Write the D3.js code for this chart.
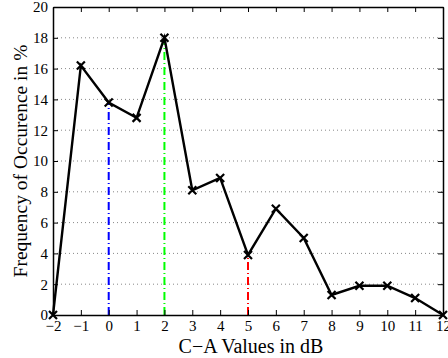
<!DOCTYPE html>
<meta charset="utf-8">
<style>body{margin:0;background:#fff}</style>
<svg width="448" height="358"></svg>
<script src="https://cdn.jsdelivr.net/npm/d3@7"></script>
<script>
// C-A values (dB) and frequency of occurrence (%)
var xVals = [-2, -1, 0, 1, 2, 3, 4, 5, 6, 7, 8, 9, 10, 11, 12];
var freq = [0, 16.2, 13.8, 12.8, 18, 8.1, 8.9, 3.9, 6.9, 5.0, 1.3, 1.9, 1.9, 1.1, 0];
var xTicks = d3.range(-2, 13);
var yTicks = d3.range(0, 21, 2);
var markerX = [0, 2, 5];
var markerY = [13.8, 18, 3.9];
var markerColor = ["#0000ff", "#00ff00", "#ff0000"];

var serif = "Liberation Serif";

var svg = d3.select("svg"),
    margin = {top: 7, right: 5, bottom: 43, left: 53},
    width = 443 - margin.left,
    height = 315 - margin.top,
    g = svg.append("g").attr("transform", "translate(" + margin.left + "," + margin.top + ")");

var x = d3.scaleLinear().domain([-2, 12]).range([0, width]);
var y = d3.scaleLinear().domain([0, 20]).range([height, 0]);

// horizontal dotted grid
g.selectAll(".grid").data(yTicks.slice(1, -1)).enter().append("line")
    .attr("x1", 0).attr("x2", width)
    .attr("y1", d => y(d)).attr("y2", d => y(d))
    .attr("stroke", "#888").attr("stroke-width", 1)
    .attr("stroke-dasharray", "1,3");

// vertical dash-dot markers
g.selectAll(".vl").data(markerX).enter().append("line")
    .attr("x1", d => x(d)).attr("x2", d => x(d))
    .attr("y1", y(0)).attr("y2", (d, i) => y(markerY[i]))
    .attr("stroke", (d, i) => markerColor[i])
    .attr("stroke-width", 2)
    .attr("stroke-dasharray", "8,3,1,3");

// axes (bottom/left with labels, top/right mirrored ticks)
var tick = 5;
g.append("g").attr("transform", "translate(0," + height + ")")
    .call(d3.axisBottom(x).tickValues(xTicks).tickSizeInner(-tick).tickSizeOuter(0).tickPadding(5)
      .tickFormat(d => d < 0 ? "\u2212" + (-d) : d));
g.append("g")
    .call(d3.axisLeft(y).tickValues(yTicks).tickSizeInner(-tick).tickSizeOuter(0).tickPadding(5));
g.append("g")
    .call(d3.axisTop(x).tickValues(xTicks).tickSizeInner(-tick).tickSizeOuter(0).tickFormat(""));
g.append("g").attr("transform", "translate(" + width + ",0)")
    .call(d3.axisRight(y).tickValues(yTicks).tickSizeInner(-tick).tickSizeOuter(0).tickFormat(""));
g.selectAll("g").attr("font-family", serif).attr("font-size", 15);
g.selectAll(".domain").attr("stroke", "#000").attr("stroke-width", 1.5);
g.selectAll(".tick line").attr("stroke", "#000");
g.selectAll(".tick text").style("font-family", serif).style("font-size", "15px").attr("fill", "#000");

// data line
var line = d3.line().x((d, i) => x(xVals[i])).y(d => y(d));
g.append("path").datum(freq)
    .attr("fill", "none").attr("stroke", "#000").attr("stroke-width", 2.4)
    .attr("d", line);

// x markers
var s = 4;
g.selectAll(".mk").data(freq).enter().append("path")
    .attr("transform", (d, i) => "translate(" + x(xVals[i]) + "," + y(d) + ")")
    .attr("d", "M" + -s + "," + -s + "L" + s + "," + s + "M" + -s + "," + s + "L" + s + "," + -s)
    .attr("stroke", "#000").attr("stroke-width", 2.2);

svg.append("text")
    .attr("x", 251).attr("y", 352.5)
    .attr("text-anchor", "middle")
    .style("font-family", serif).style("font-size", "20px")
    .text("C\u2212A Values in dB");

svg.append("text")
    .attr("transform", "translate(27,161) rotate(-90)")
    .attr("text-anchor", "middle")
    .style("font-family", serif).style("font-size", "19.5px")
    .text("Frequency of Occurence in %");
</script>
